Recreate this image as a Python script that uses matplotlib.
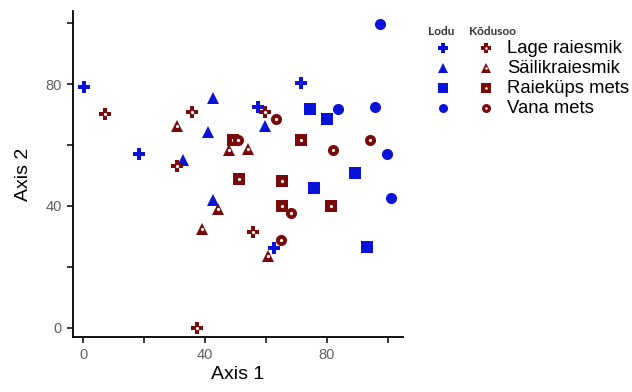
import matplotlib.pyplot as plt

plt.rcParams['font.family'] = ['Liberation Sans', 'DejaVu Sans']

# Lodu (blue) points per stand type
lodu_lage_x = [0.2, 18.2, 71.6, 57.3, 62.8]
lodu_lage_y = [79.0, 57.2, 80.3, 72.5, 26.3]
lodu_sail_x = [42.6, 41.0, 32.8, 59.7, 42.6]
lodu_sail_y = [75.4, 64.3, 55.2, 66.2, 42.1]
lodu_raie_x = [74.6, 79.9, 89.4, 75.8, 93.3]
lodu_raie_y = [71.9, 68.4, 50.7, 45.8, 26.6]
lodu_vana_x = [97.5, 83.5, 95.9, 99.9, 101.0]
lodu_vana_y = [99.6, 71.9, 72.5, 56.9, 42.6]

# Kõdusoo (dark red) points per stand type
kod_lage_x = [7.2, 35.6, 30.9, 55.9, 37.5, 59.7]
kod_lage_y = [70.3, 71.0, 53.0, 31.3, 0.0, 71.0]
kod_sail_x = [30.9, 47.9, 54.2, 44.3, 39.1, 60.6]
kod_sail_y = [66.1, 58.5, 58.8, 39.1, 32.6, 23.5]
kod_raie_x = [49.3, 51.2, 65.2, 71.6, 65.3, 81.3]
kod_raie_y = [61.5, 49.0, 48.1, 61.5, 40.0, 40.0]
kod_vana_x = [50.7, 63.4, 82.1, 94.2, 68.1, 65.0]
kod_vana_y = [61.5, 68.6, 58.3, 61.5, 37.7, 28.7]

labels = ['Lage raiesmik', 'Säilikraiesmik', 'Raieküps mets', 'Vana mets']
markers = ['P', '^', 's', 'o']
msizes = [8, 8.5, 8, 8]
blue = '#0a14d8'
red = '#7a0a0a'

lodu = [(lodu_lage_x, lodu_lage_y), (lodu_sail_x, lodu_sail_y),
        (lodu_raie_x, lodu_raie_y), (lodu_vana_x, lodu_vana_y)]
kod = [(kod_lage_x, kod_lage_y), (kod_sail_x, kod_sail_y),
       (kod_raie_x, kod_raie_y), (kod_vana_x, kod_vana_y)]

fig = plt.figure(figsize=(6.32, 3.92), dpi=100)
ax = fig.add_axes([0.1155, 0.1403, 0.5222, 0.8317])

for (x, y), m, ms in zip(lodu, markers, msizes):
    ax.plot(x, y, m, color=blue, ms=ms, mew=0, ls='none')
for (x, y), m, ms in zip(kod, markers, msizes):
    ax.plot(x, y, m, color=red, ms=ms, mew=0, ls='none')
    ax.plot(x, y, 'o', color='white', ms=2.3, mew=0, ls='none')

ax.set_xlim(-3.3, 105)
ax.set_ylim(-3, 104)
ax.set_xticks([0, 20, 40, 60, 80, 100])
ax.set_xticklabels(['0', '', '40', '', '80', ''])
ax.set_yticks([0, 20, 40, 60, 80, 100])
ax.set_yticklabels(['0', '', '40', '', '80', ''])
for s in ['top', 'right']:
    ax.spines[s].set_visible(False)
for s in ['left', 'bottom']:
    ax.spines[s].set_linewidth(1.3)
ax.tick_params(direction='out', length=4, width=1.1, labelsize=10.5,
               labelcolor='#606060', pad=4)
ax.set_xlabel('Axis 1', fontsize=14, labelpad=3)
ax.set_ylabel('Axis 2', fontsize=14, labelpad=10)

# legend panel, laid out in pixel units
lg = fig.add_axes([0, 0, 1, 1], zorder=-1)
lg.set_xlim(0, 632)
lg.set_ylim(392, 0)
lg.axis('off')
lg.text(428, 31, 'Lodu', fontsize=8.5, fontweight='bold', color='#333333',
        va='center', family='Lato')
lg.text(469, 31, 'Kõdusoo', fontsize=8.5, fontweight='bold', color='#333333',
        va='center', family='Lato')
for i, (lab, m) in enumerate(zip(labels, markers)):
    row = 48 + 20 * i
    lg.plot([443], [row], m, color=blue, ms=6.5, mew=0)
    lg.plot([486], [row], m, color=red, ms=6.5, mew=0)
    lg.plot([486], [row], 'o', color='white', ms=1.8, mew=0)
    lg.text(507, row, lab, fontsize=13.3, va='center', color='black')

fig.savefig('out.png', dpi=100)
